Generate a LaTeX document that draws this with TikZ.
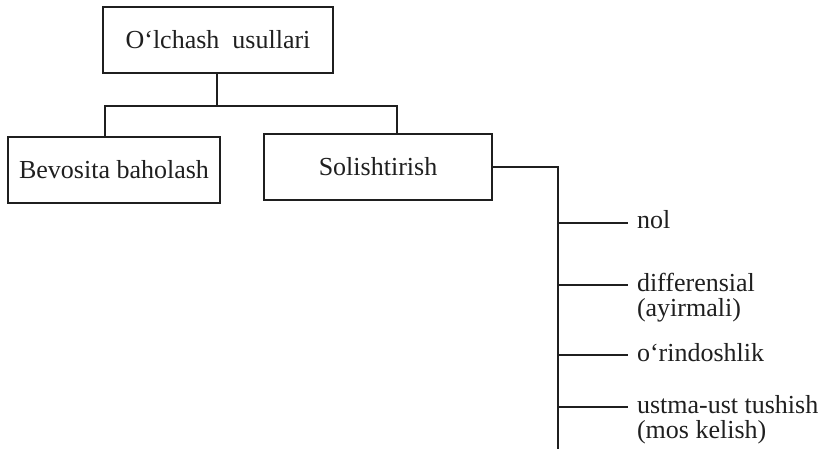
\documentclass[tikz,border=0pt]{standalone}
\usepackage{fontspec}
\setmainfont{Liberation Serif}
\begin{document}
\begin{tikzpicture}[x=1pt,y=-1pt,
  ink/.style={color=black!88},
  box/.style={draw=black!88, line width=2pt, inner sep=0pt, minimum height=66pt, font=\fontsize{26}{25}\selectfont, text=black!88},
  lbl/.style={inner sep=0pt, outer sep=0pt, anchor=base west, font=\fontsize{26}{25}\selectfont, text=black!88},
  conn/.style={draw=black!88, line width=1.8pt}]
\useasboundingbox (0,0) rectangle (827,449);
\node[box, minimum width=230pt] (top) at (218,40) {O‘lchash\ \ usullari};
\node[box, minimum width=212pt] (bev) at (114,170) {Bevosita baholash};
\node[box, minimum width=228pt] (sol) at (378,167) {Solishtirish};
\coordinate (j) at (217,106);
\coordinate (jl) at (105,106);
\coordinate (jr) at (397,106);
\draw[conn] (top.south -| j) -- (j);
\draw[conn] (jl |- bev.north) -- (jl) -- (jr) -- (jr |- sol.north);
\coordinate (sp) at (558,167);
\coordinate (spe) at (558,449);
\draw[conn] (sol.east) -- (sp) -- (spe);
\node[lbl] (nol) at (637,229) {nol};
\node[lbl] (dif) at (637,291) {differensial};
\node[lbl] (ayi) at (637,316) {(ayirmali)};
\node[lbl] (ori) at (637,361) {o‘rindoshlik};
\node[lbl] (ust) at (637,413) {ustma-ust tushish};
\node[lbl] (mos) at (637,438) {(mos kelish)};
\draw[conn] (sp |- 0,223) -- (628,223);
\draw[conn] (sp |- 0,285) -- (628,285);
\draw[conn] (sp |- 0,355) -- (628,355);
\draw[conn] (sp |- 0,407) -- (628,407);
\end{tikzpicture}
\end{document}
